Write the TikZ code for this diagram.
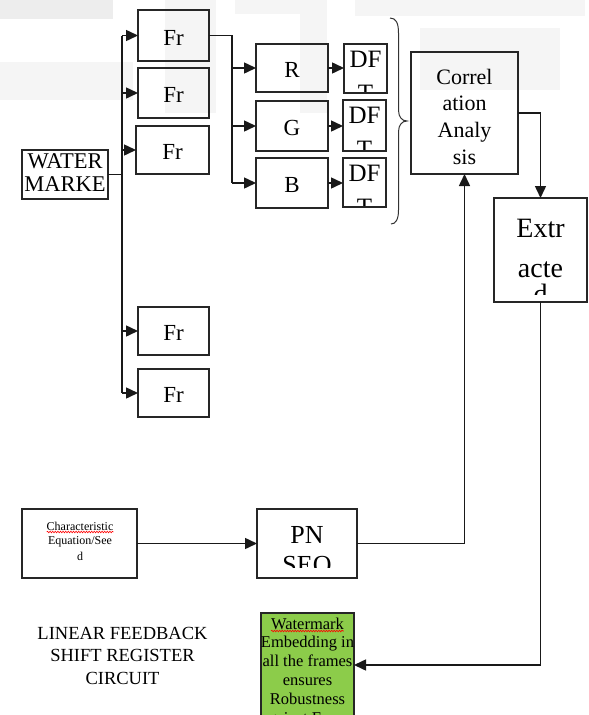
\documentclass[tikz,border=0pt]{standalone}
\usepackage{fontspec}
\setmainfont{Liberation Serif}
\usetikzlibrary{arrows.meta,decorations.pathmorphing}
\definecolor{boxgreen}{RGB}{140,204,74}
\newcommand\fsz[2]{\fontsize{#1}{#2}\selectfont}
\begin{document}
\begin{tikzpicture}[x=1pt,y=-1pt,
  box/.style={draw=black!85,line width=1.6pt,inner sep=0pt,outer sep=0pt,anchor=north west},
  conn/.style={draw=black!90,line width=1.5pt},
  arr/.style={conn,-{Triangle[length=12pt,width=11pt]}},
  txt/.style={inner sep=0pt,outer sep=0pt,align=center,text=black},
  squig/.style={draw=red,line width=0.6pt,decorate,decoration={snake,amplitude=0.8pt,segment length=2.6pt}},
  faint/.style={fill=gray!8,draw=none}]
\useasboundingbox (0,0) rectangle (589,715);
\clip (0,0) rectangle (589,715);
% faint background watermark
\fill[faint,fill=gray!14] (0,0) rectangle (113,19);
\fill[faint] (0,62) rectangle (133,100);
\fill[faint] (165,0) rectangle (216,113);
\fill[faint] (300,0) rectangle (327,113);
\fill[faint] (235,0) rectangle (300,14);
\fill[faint] (355,0) rectangle (585,16);
\fill[faint] (420,28) rectangle (560,90);
% boxes
\node[box,minimum width=86pt,minimum height=49pt] (water) at (22,150) {};
\node[box,minimum width=71pt,minimum height=51pt] (fr1) at (138,10) {};
\node[box,minimum width=71pt,minimum height=50pt] (fr2) at (138,68) {};
\node[box,minimum width=73pt,minimum height=48pt] (fr3) at (136,126) {};
\node[box,minimum width=71pt,minimum height=48pt] (fr4) at (138,307) {};
\node[box,minimum width=71pt,minimum height=48pt] (fr5) at (138,369) {};
\node[box,minimum width=72pt,minimum height=48pt] (r) at (256,44) {};
\node[box,minimum width=72pt,minimum height=50pt] (g) at (256,101) {};
\node[box,minimum width=72pt,minimum height=50pt] (b) at (256,158) {};
\node[box,minimum width=43pt,minimum height=49pt] (dr) at (344,44) {};
\node[box,minimum width=43pt,minimum height=51pt] (dg) at (343,100) {};
\node[box,minimum width=43pt,minimum height=49pt] (db) at (343,158) {};
\node[box,minimum width=107pt,minimum height=122pt] (corr) at (411,52) {};
\node[box,minimum width=93pt,minimum height=104pt] (ext) at (494,198) {};
\node[box,minimum width=115pt,minimum height=69pt] (chr) at (22,509) {};
\node[box,minimum width=100pt,minimum height=69pt] (pn) at (257,509) {};
\node[box,fill=boxgreen,minimum width=93pt,minimum height=104pt] (wm) at (261,613) {};
% texts
\node[txt,font=\fsz{22.5}{23},anchor=north] (waterT) at (65,154) {WATER\\MARKE};
\foreach \f in {fr1,fr2,fr3,fr4,fr5}
  \node[txt,font=\fsz{23}{26}] (\f T) at ([yshift=-2pt]\f.center) {Fr};
\node[txt,font=\fsz{23}{26}] (rT) at ([yshift=-2pt]r.center) {R};
\node[txt,font=\fsz{23}{26}] (gT) at ([yshift=-2pt]g.center) {G};
\node[txt,font=\fsz{23}{26}] (bT) at ([yshift=-2pt]b.center) {B};
\foreach \d in {dr,dg,db}{
  \begin{scope}
    \clip (\d.north west) rectangle ([yshift=1.5pt]\d.south east);
    \node[txt,font=\fsz{25}{34},anchor=north] (\d T) at ([yshift=-7.5pt]\d.north) {DF\\T};
  \end{scope}
}
\node[txt,font=\fsz{22}{26.7},anchor=north] (corrT) at (464.5,69) {Correl\\ation\\Analy\\sis};
\begin{scope}
  \clip (ext.north west) rectangle ([yshift=8pt]ext.south east);
  \node[txt,font=\fsz{28}{40},anchor=north] (extT) at (540.5,219) {Extr\\acte\\[-14pt]d};
\end{scope}
\begin{scope}
  \clip (pn.north west) rectangle ([yshift=11pt]pn.south east);
  \node[txt,font=\fsz{26}{30},anchor=north] (pnT) at (307,526) {PN\\SEQ};
\end{scope}
\node[txt,font=\fsz{12}{16},anchor=base] (chr1) at (80,530) {Characteristic};
\draw[squig] ([yshift=-2pt]chr1.base west) -- ([yshift=-2pt]chr1.base east);
\node[txt,font=\fsz{12}{16},anchor=north] (chr2) at (80,537) {Equation/See\\d};
\node[txt,font=\fsz{16.5}{18.8},anchor=base] (wm1) at (307.5,629) {Watermark};
\draw[squig] ([yshift=-2pt]wm1.base west) -- ([yshift=-2pt]wm1.base east);
\begin{scope}
  \clip (wm.north west) rectangle (wm.south east);
  \node[txt,font=\fsz{16.5}{18.8},anchor=north] (wm2) at (307.5,636.5)
    {Embedding in\\all the frames\\ensures\\Robustness\\against Frame};
\end{scope}
\node[txt,font=\fsz{18.5}{22.5},anchor=north] (lfsr) at (122.5,627)
  {LINEAR FEEDBACK\\SHIFT REGISTER\\CIRCUIT};
% connectors
\coordinate (busx) at (122,0);
\coordinate (splx) at (232,0);
\draw[conn] (fr1.west -| busx) -- (fr5.west -| busx);
\draw[conn] (water.east) -- (water.east -| busx);
\foreach \f in {fr1,fr2,fr3,fr4,fr5}
  \draw[arr] (\f.west -| busx) -- (\f.west);
\draw[conn] (fr1.east) -- (fr1.east -| splx) -- (b.west -| splx);
\foreach \c in {r,g,b}
  \draw[arr] (\c.west -| splx) -- (\c.west);
\draw[arr] (r.east) -- (r.east -| dr.west);
\draw[arr] (g.east) -- (g.east -| dg.west);
\draw[arr] (b.east) -- (b.east -| db.west);
% brace
\draw[line width=1pt,black!80] (390,18) .. controls (396,18) and (398.5,23) .. (398.5,33)
  -- (398.5,110) .. controls (398.5,117) and (402,121) .. (407,121)
  .. controls (402,121) and (398.5,125) .. (398.5,132)
  -- (398.5,210) .. controls (398.5,219) and (396,224) .. (391,224);
\draw[arr] (corr.east) -| (ext.north);
\draw[arr] (ext.south) |- (wm.east);
\draw[arr] (chr.east) -- (pn.west);
\draw[arr] (pn.east) -| (corr.south);
\end{tikzpicture}
\end{document}
